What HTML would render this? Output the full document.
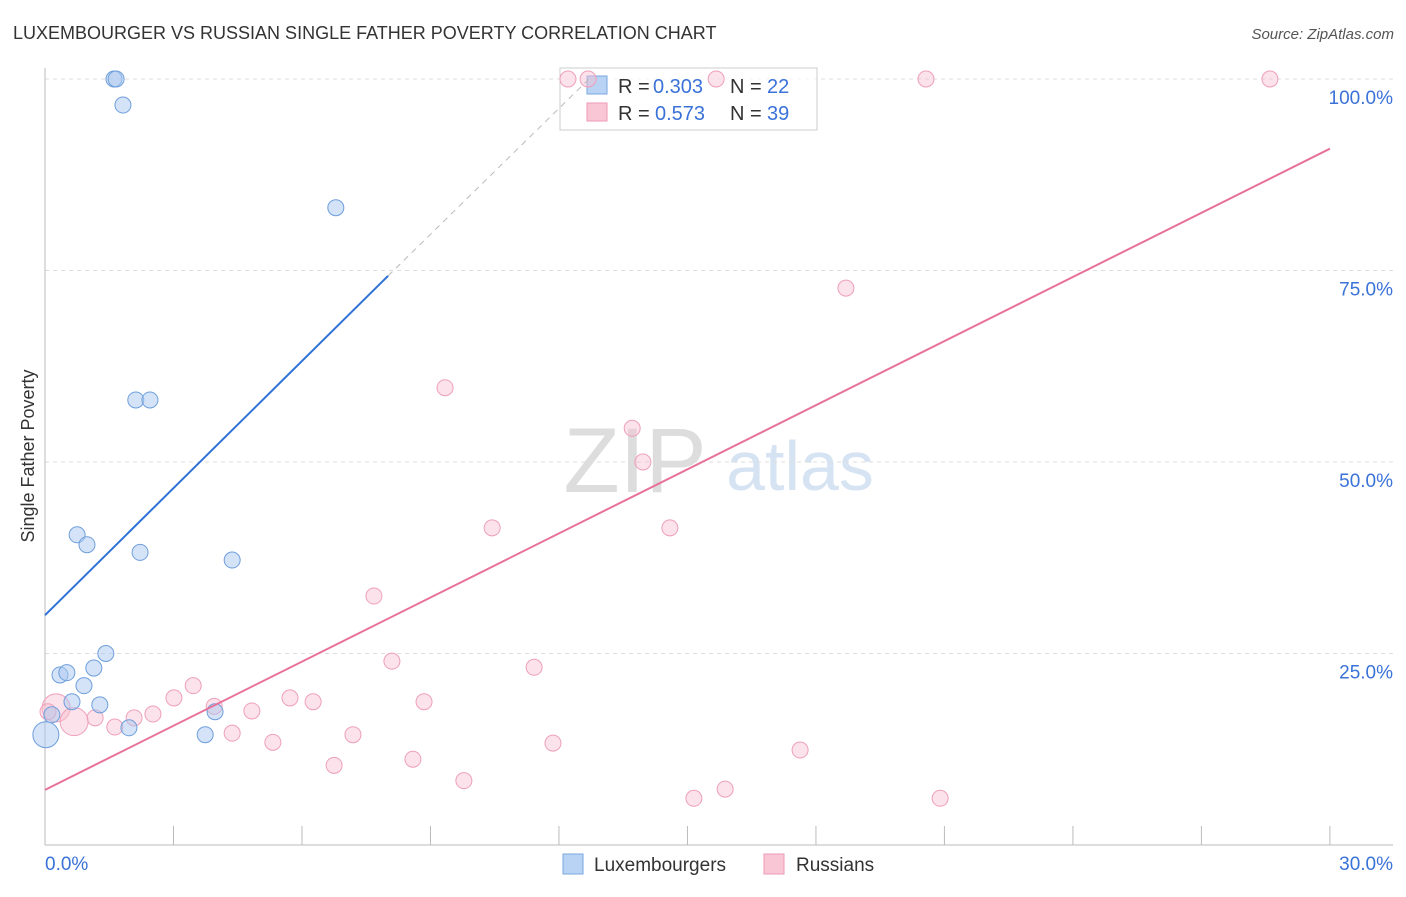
<!DOCTYPE html>
<html><head><meta charset="utf-8"><style>
body{margin:0;background:#fff;font-family:"Liberation Sans",sans-serif}
text{font-family:"Liberation Sans",sans-serif}
</style></head><body>
<svg id="c" width="1406" height="892">
<text x="13" y="39" font-size="18" fill="#333">LUXEMBOURGER VS RUSSIAN SINGLE FATHER POVERTY CORRELATION CHART</text>
<text x="1394" y="39" font-size="15" fill="#555" text-anchor="end" font-style="italic">Source: ZipAtlas.com</text>
<text x="635" y="492" font-size="92" fill="#ddd" text-anchor="middle" font-family="Liberation Serif">ZIP</text>
<text x="800" y="490" font-size="70" fill="#d6e3f3" text-anchor="middle">atlas</text>
<text x="34" y="456" font-size="18" fill="#333" text-anchor="middle" transform="rotate(-90 34 456)">Single Father Poverty</text>
<g id="grid"></g>
<g>
<rect x="560" y="68" width="257" height="62" fill="#fff" fill-opacity="0.7" stroke="#ccc"/>
<rect x="587" y="76" width="20" height="18" fill="#b8d3f3" stroke="#7aa7e0"/>
<rect x="587" y="103" width="20" height="18" fill="#f9c6d5" stroke="#ee9ab4"/>
<text y="93" font-size="20" fill="#333"><tspan x="618">R = </tspan><tspan x="653" fill="#3a72d8">0.303</tspan><tspan x="730">N = </tspan><tspan x="767" fill="#3a72d8">22</tspan></text>
<text y="120" font-size="20" fill="#333"><tspan x="618">R = </tspan><tspan x="655" fill="#3a72d8">0.573</tspan><tspan x="730">N = </tspan><tspan x="767" fill="#3a72d8">39</tspan></text>
</g>
<g id="marks"></g>
<g>
<rect x="563" y="854" width="20" height="20" fill="#b8d3f3" stroke="#7aa7e0"/>
<text x="594" y="871" font-size="19" fill="#333">Luxembourgers</text>
<rect x="764" y="854" width="20" height="20" fill="#f9c6d5" stroke="#ee9ab4"/>
<text x="796" y="871" font-size="19" fill="#333">Russians</text>
</g>
</svg>
<script>
const yTicks=[25,50,75,100];
const yTickLabels=["25.0%","50.0%","75.0%","100.0%"];
const blueX=[1.61,1.66,1.82,6.79,2.12,2.45,0.75,0.98,2.22,4.37,1.42,0.35,0.51,1.14,0.91,0.63,1.28,3.97,1.96,3.74,0.16,0.02];
const blueY=[100,100,96.6,83.2,58.1,58.1,40.5,39.2,38.2,37.2,25.0,22.2,22.5,23.1,20.8,18.7,18.3,17.4,15.3,14.4,17.0,14.4];
const blueR=[8,8,8,8,8,8,8,8,8,8,8,8,8,8,8,8,8,8,8,8,8,13];
const pinkX=[12.21,12.68,15.67,20.57,28.6,18.70,9.34,13.71,13.96,10.44,14.59,7.68,8.10,11.42,3.46,3.01,5.72,6.26,8.85,3.95,4.83,2.52,2.08,1.17,0.26,0.68,1.63,4.37,7.19,5.32,11.86,17.63,8.59,6.75,9.78,15.88,15.15,20.90,0.07];
const pinkY=[100,100,100,100,100,72.7,59.7,54.4,50.0,41.4,41.4,32.5,24.0,23.2,20.8,19.2,19.2,18.7,18.7,18.1,17.5,17.1,16.6,16.6,17.9,16.1,15.4,14.6,14.4,13.4,13.3,12.4,11.2,10.4,8.4,7.3,6.1,6.1,17.4];
const pinkBig=[24,25];
const blueTrend=[[0,30.0],[8.01,74.3]];
const blueDash=[[8.01,74.3],[12.7,100]];
const pinkTrend=[[0,7.2],[30,90.9]];
const NS="http://www.w3.org/2000/svg";
const X=v=>45+v*42.83, Y=v=>845-v*7.66;
function mk(t,a,p){const e=document.createElementNS(NS,t);for(const k in a)e.setAttribute(k,a[k]);p.appendChild(e);return e;}
const g=document.getElementById('grid'), m=document.getElementById('marks');
yTicks.forEach((t,i)=>{
 const l=mk('line',{x1:45,x2:1393,y1:Y(t),y2:Y(t),stroke:'#ddd','stroke-dasharray':'4,4'},g);
 
 
 const tx=mk('text',{x:1393,y:Y(t)+25,'font-size':19,fill:'#3a72d8','text-anchor':'end'},g);tx.textContent=yTickLabels[i];
 
 
});
mk('line',{x1:45,x2:45,y1:68,y2:845,stroke:'#bbb'},g);
mk('line',{x1:45,x2:1393,y1:845,y2:845,stroke:'#bbb'},g);
for(let i=1;i<=10;i++){const t=mk('line',{x1:X(i*3),x2:X(i*3),y1:826,y2:845,stroke:'#bbb'},g);
 
 }
const x0=mk('text',{x:45,y:870,'font-size':19,fill:'#3a72d8'},g);x0.textContent='0.0%';


const x1=mk('text',{x:1393,y:870,'font-size':19,fill:'#3a72d8','text-anchor':'end'},g);x1.textContent='30.0%';


pinkX.forEach((v,i)=>{const r=pinkBig.includes(i)?14:8;
 const c=mk('circle',{cx:X(v),cy:Y(pinkY[i]),r:r,fill:'rgba(248,190,208,0.45)',stroke:'#eea0b8','stroke-width':1},m);
 
 });
blueX.forEach((v,i)=>{
 const c=mk('circle',{cx:X(v),cy:Y(blueY[i]),r:blueR[i],fill:'rgba(170,200,240,0.5)',stroke:'#6f9fdc','stroke-width':1},m);
 
 });
const bl=mk('line',{x1:X(blueTrend[0][0]),y1:Y(blueTrend[0][1]),x2:X(blueTrend[1][0]),y2:Y(blueTrend[1][1]),stroke:'#2f72d6','stroke-width':2},m);


const bd=mk('line',{x1:X(blueDash[0][0]),y1:Y(blueDash[0][1]),x2:X(blueDash[1][0]),y2:Y(blueDash[1][1]),stroke:'#bbb','stroke-width':1,'stroke-dasharray':'6,5'},m);


const pl=mk('line',{x1:X(pinkTrend[0][0]),y1:Y(pinkTrend[0][1]),x2:X(pinkTrend[1][0]),y2:Y(pinkTrend[1][1]),stroke:'#e8719a','stroke-width':2},m);


</script>
</body></html>
